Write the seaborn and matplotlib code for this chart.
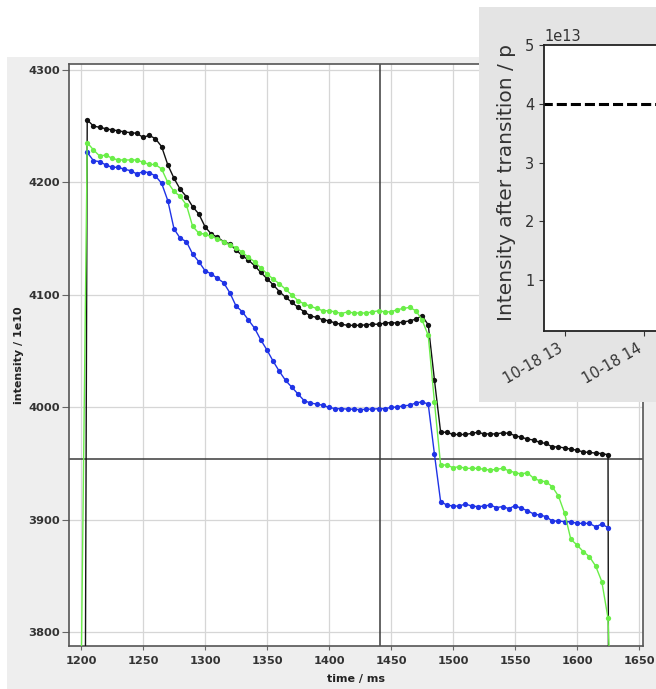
import numpy as np
import pandas as pd
import matplotlib
matplotlib.use("Agg")
import matplotlib.pyplot as plt
import matplotlib.dates as mdates
from matplotlib.patches import Rectangle
import seaborn as sns

# ---------------- data ----------------
time_ms = list(range(1200, 1635, 5))
NA = float("nan")

black_vals = [2600,
    4255.6, 4250.2, 4249.0, 4247.8, 4246.7, 4246.0, 4244.9, 4244.3, 4243.7, 4240.1,
    4241.9, 4238.9, 4231.9, 4215.6, 4203.7, 4193.9, 4187.4, 4178.5, 4172.0, 4160.7,
    4154.2, 4151.3, 4147.4, 4145.3, 4140.0,
    4135, 4131, 4126, 4120, 4114.5, 4109, 4103, 4098, 4093.5, 4089, 4085, 4081.5, 4080, 4078, 4077,
    4075, 4074, 4073, 4073, 4073, 4073.5, 4074, 4074, 4075, 4075.5, 4075, 4076, 4077, 4078.5,
    4081.5, 4073.5, 4024.5,
    3978, 3978, 3976, 3976, 3976, 3977, 3978, 3976.5, 3976.5, 3976.5, 3977.5, 3977, 3975, 3973.5,
    3972, 3971, 3969, 3968, 3965, 3965, 3964, 3963, 3962, 3960.5, 3960, 3959.5, 3959, 3958,
    1100]

green_vals = [3750,
    4235.4, 4229, 4223.5, 4224.4, 4221.5, 4220, 4220, 4220, 4220, 4218, 4216, 4216, 4212, 4200,
    4192, 4187.6, 4180, 4161, 4155, 4154, 4152, 4150, 4147.4, 4144.4, 4142,
    4138, 4133.5, 4129.5, 4124, 4119, 4114, 4110, 4105, 4100, 4095, 4092, 4090, 4088, 4086, 4086,
    4085, 4083.5, 4085, 4084, 4084, 4084, 4085, 4086, 4085, 4085, 4087, 4088, 4089, 4086, 4078,
    4064, 4005,
    3948.9, 3948.9, 3946.5, 3947.4, 3945.9, 3945.9, 3945.9, 3945.0, 3944.4, 3945.0, 3945.9, 3943.8,
    3942.1, 3940.9, 3942.1, 3937.0, 3934.9, 3934.0, 3929.6, 3921.3, 3905.9, 3882.8, 3877.8, 3871.9,
    3867.4, 3859.1, 3845.2, 3812.6,
    3650]

blue_vals = [NA,
    4226.8, 4219.4, 4218.5, 4215.6, 4213.5, 4213.5, 4211.7, 4210.5, 4207.6, 4209.6, 4208.7, 4205.8,
    4199.3, 4183.8, 4158.7, 4150.4, 4147.4, 4136.4, 4129.6, 4121.6, 4118.7, 4114.8, 4110.9, 4102,
    4090.2, 4085.2, 4077.8, 4070.4,
    4060, 4051, 4041, 4032, 4024, 4018, 4012, 4006, 4004, 4003, 4002, 4000,
    3999, 3999, 3998.5, 3998.5, 3998, 3998.5, 3998.5, 3999, 3999, 4000, 4000.5, 4001.5, 4002, 4004,
    4005, 4003,
    3958.6,
    3916.3, 3913.3, 3912.4, 3912.4, 3914.2, 3912.4, 3911.9, 3912.4, 3913.3, 3911.0, 3911.9, 3910.1,
    3912.7, 3910.4, 3908.3, 3905.3, 3904.4, 3903.0, 3899.1, 3899.1, 3898.5, 3898.5, 3897.0, 3897.0,
    3897.0, 3894.0, 3896.4, 3893.2,
    NA]

series_names = ["black", "blue", "green"]
series_colors = {"black": "#111111", "blue": "#1f33e6", "green": "#6aee48"}

x_ticks = [1200, 1250, 1300, 1350, 1400, 1450, 1500, 1550, 1600, 1650]
y_ticks = [3800, 3900, 4000, 4100, 4200, 4300]
cursor_time = 1441
cursor_value = 3954

inset_times = pd.to_datetime(["2018-10-18 12:00", "2018-10-18 16:00"])
inset_values = [4e13, 4e13]
inset_yticks = [1e13, 2e13, 3e13, 4e13, 5e13]

df = pd.DataFrame({
    "time": time_ms * 3,
    "intensity": black_vals + blue_vals + green_vals,
    "series": ["black"] * len(time_ms) + ["blue"] * len(time_ms) + ["green"] * len(time_ms),
})

# ---------------- figure ----------------
W, H = 656, 689
fig = plt.figure(figsize=(W / 100, H / 100), dpi=100, facecolor="white")

# grey panel of the main chart
fig.add_artist(Rectangle((7 / W, 0), 1, (H - 57) / H, transform=fig.transFigure,
                         facecolor="#eeeeee", edgecolor="none", zorder=-5))

ax = fig.add_axes([69 / W, (H - 646) / H, 574 / W, 582 / H])
ax.set_facecolor("white")

for name in series_names:
    sub = df[df["series"] == name].dropna()
    sns.lineplot(data=sub, x="time", y="intensity", ax=ax, color=series_colors[name],
                 marker="o", markersize=3.8, markeredgewidth=0, linewidth=1.0,
                 sort=False, estimator=None, legend=False, zorder=3)

ax.axvline(cursor_time, color="#3a3a3a", lw=1.1, zorder=2)
ax.axhline(cursor_value, color="#3a3a3a", lw=1.1, zorder=2)

ax.set_xlim(1190.3, 1653.2)
ax.set_ylim(3788, 4305.3)
ax.set_xticks(x_ticks)
ax.set_yticks(y_ticks)
ax.grid(True, color="#d6d6d6", lw=0.9)
ax.set_axisbelow(True)
for s in ax.spines.values():
    s.set_color("#555555")
    s.set_linewidth(1.2)
ax.tick_params(axis="x", length=3, pad=4.5, color="#666666", labelsize=8.2, labelcolor="#333333")
ax.tick_params(axis="y", length=4.7, pad=2, color="#666666", labelsize=8.2, labelcolor="#333333")
for lbl in ax.get_xticklabels() + ax.get_yticklabels():
    lbl.set_fontweight("bold")
ax.set_xlabel("time / ms", fontsize=8, fontweight="bold", color="#222222")
ax.set_ylabel("intensity / 1e10", fontsize=8, fontweight="bold", color="#222222")
ax.xaxis.set_label_coords(0.5, -0.048)
ax.yaxis.set_label_coords(-0.078, 0.5)

# ---------------- inset (overlaid screenshot) ----------------
fig.add_artist(Rectangle((479 / W, (H - 402) / H), 1, (402 - 7) / H, transform=fig.transFigure,
                         facecolor="#e4e4e4", edgecolor="none", zorder=1))

axi = fig.add_axes([544 / W, (H - 331) / H, 216 / W, 286 / H])
axi.set_zorder(2)
axi.set_facecolor("white")
sns.lineplot(x=inset_times, y=inset_values, ax=axi, color="black", linewidth=2.2,
             linestyle=(0, (3.3, 1.3)), legend=False)

t13 = mdates.date2num(pd.Timestamp("2018-10-18 13:00"))
hr = 1 / 24
axi.set_xlim(t13 - (21 / 79) * hr, t13 + (195 / 79) * hr)
axi.set_ylim(0.132e13, 5e13)
axi.set_yticks(inset_yticks)
axi.xaxis.set_major_locator(mdates.HourLocator())
axi.xaxis.set_major_formatter(mdates.DateFormatter("%m-%d %H"))
axi.tick_params(labelsize=10.5, labelcolor="#333333", color="#333333", length=3.5)
plt.setp(axi.get_xticklabels(), rotation=30, ha="right")
axi.yaxis.get_offset_text().set_fontsize(10.5)
axi.yaxis.get_offset_text().set_color("#333333")
for s in axi.spines.values():
    s.set_color("#222222")
    s.set_linewidth(1.3)
axi.set_xlabel("")
axi.set_ylabel("Intensity after transition / p", fontsize=14.5, color="#333333")
axi.yaxis.set_label_coords(-0.13, 0.52)

fig.savefig("out.png", dpi=100, facecolor="white")
